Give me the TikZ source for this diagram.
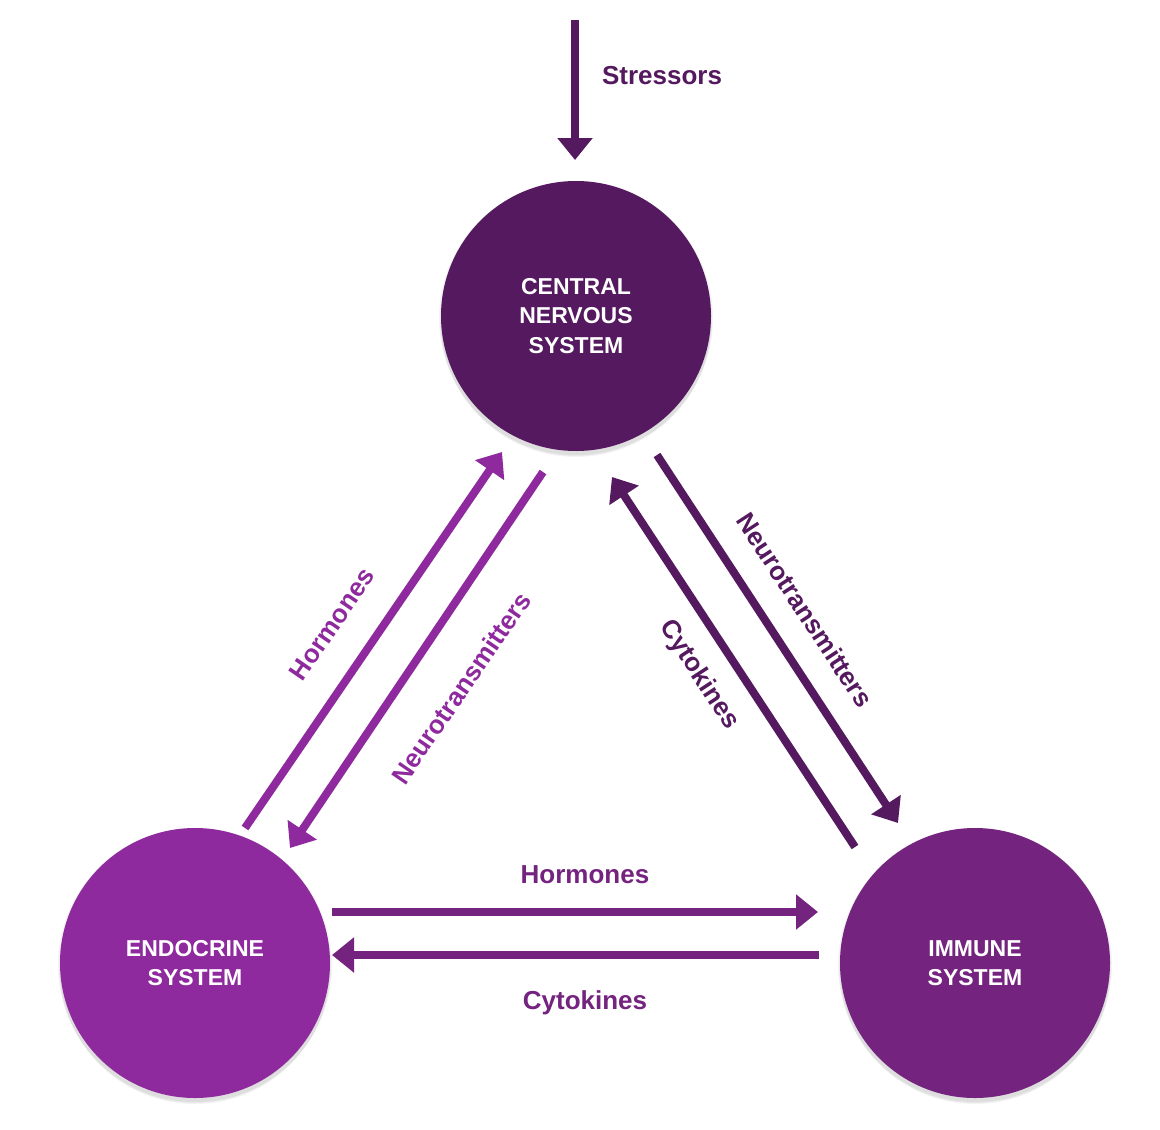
\documentclass[tikz,border=0pt]{standalone}
\usepackage{fontspec}
\setmainfont{Liberation Sans}
\usetikzlibrary{arrows.meta}
\definecolor{cnsc}{HTML}{54195E}
\definecolor{endoc}{HTML}{8E2A9E}
\definecolor{immc}{HTML}{74237F}
\begin{document}
\begin{tikzpicture}[x=1pt,y=-1pt,
  sys/.style={circle, minimum size=270pt, inner sep=0pt, text=white, align=center,
    font=\fontsize{23}{29.5}\selectfont\bfseries},
  flow/.style={line width=8pt, -{Triangle[width=34pt,length=22pt]}},
  lbl/.style={font=\fontsize{26}{30}\selectfont\bfseries, inner sep=0pt},
  shade1/.style={fill=black, opacity=0.045}]
\useasboundingbox[fill=white] (0,0) rectangle (1160,1130);
% soft shadows
\foreach \cx/\cy in {576/316, 195/963, 975/963}{
  \fill[shade1] (\cx,\cy+2) circle (137);
  \fill[shade1] (\cx,\cy+4) circle (136);
  \fill[shade1] (\cx,\cy+6) circle (135);
}
% systems
\node[sys, fill=cnsc] (cns) at (576,316) {CENTRAL\\NERVOUS\\SYSTEM};
\node[sys, fill=endoc] (endo) at (195,963) {ENDOCRINE\\SYSTEM};
\node[sys, fill=immc] (imm) at (975,963) {IMMUNE\\SYSTEM};
% end points
\coordinate (s0) at (575,20);   \coordinate (s1) at (575,160);
\coordinate (lh0) at (245,828); \coordinate (lh1) at (502,452);
\coordinate (ln0) at (543,472); \coordinate (ln1) at (290,848);
\coordinate (rn0) at (657,455); \coordinate (rn1) at (898,823);
\coordinate (rc0) at (855,847); \coordinate (rc1) at (612,477);
\coordinate (hh0) at (332,912); \coordinate (hh1) at (818,912);
\coordinate (hc0) at (819,955); \coordinate (hc1) at (332,955);
% connectors
\draw[flow, cnsc] (s0) -- (s1);
\draw[flow, endoc] (lh0) -- (lh1);
\draw[flow, endoc] (ln0) -- (ln1);
\draw[flow, cnsc] (rn0) -- (rn1);
\draw[flow, cnsc] (rc0) -- (rc1);
\draw[flow, immc] (hh0) -- (hh1);
\draw[flow, immc] (hc0) -- (hc1);
% labels
\node[lbl, text=cnsc] (tstress) at (662,76) {Stressors};
\node[lbl, text=endoc, rotate=55.6] (tlh) at (332,624) {Hormones};
\node[lbl, text=endoc, rotate=55.6] (tln) at (461,688) {Neurotransmitters};
\node[lbl, text=cnsc, rotate=-56.8] (trn) at (805,610) {Neurotransmitters};
\node[lbl, text=cnsc, rotate=-56.8] (trc) at (699,675) {Cytokines};
\node[lbl, text=immc] (thh) at (585,875) {Hormones};
\node[lbl, text=immc] (thc) at (585,1003) {Cytokines};
\end{tikzpicture}
\end{document}
